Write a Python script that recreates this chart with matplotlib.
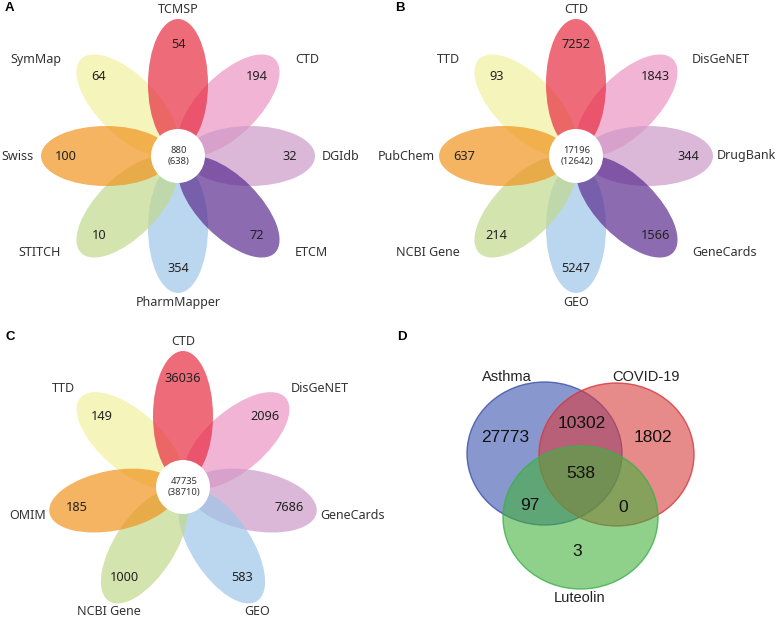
import matplotlib
matplotlib.use('Agg')
import matplotlib.pyplot as plt
from matplotlib.patches import Ellipse, Circle
import numpy as np

# panel A - compound target databases
a_labels = ['TCMSP', 'CTD', 'DGIdb', 'ETCM', 'PharmMapper', 'STITCH', 'Swiss', 'SymMap']
a_counts = [54, 194, 32, 72, 354, 10, 100, 64]
a_core = (880, 638)

# panel B
b_labels = ['CTD', 'DisGeNET', 'DrugBank', 'GeneCards', 'GEO', 'NCBI Gene', 'PubChem', 'TTD']
b_counts = [7252, 1843, 344, 1566, 5247, 214, 637, 93]
b_core = (17196, 12642)

# panel C
c_labels = ['CTD', 'DisGeNET', 'GeneCards', 'GEO', 'NCBI Gene', 'OMIM', 'TTD']
c_counts = [36036, 2096, 7686, 583, 1000, 185, 149]
c_core = (47735, 38710)

# panel D - venn
venn_sets = ['Asthma', 'COVID-19', 'Luteolin']
venn_regions = ['100', '010', '110', '111', '101', '011', '001']
venn_counts = [27773, 1802, 10302, 538, 97, 0, 3]

red, pink, lilac, purple = '#E82C41', '#EC95C2', '#CD9AC8', '#5B2C90'
blue, green, orange, yellow = '#9EC7EA', '#C2D98E', '#F1941F', '#F1F09D'
petal_cols8 = [red, pink, lilac, purple, blue, green, orange, yellow]
petal_cols7 = [red, pink, lilac, blue, green, orange, yellow]
# stacking order of the petals (bottom -> top)
stack = [pink, yellow, red, lilac, blue, purple, green, orange]

plt.rcParams['font.family'] = ['Noto Sans', 'DejaVu Sans']

fig = plt.figure(figsize=(7.76, 6.18), dpi=100)
ax = fig.add_axes([0, 0, 1, 1])
ax.set_xlim(0, 776)
ax.set_ylim(618, 0)
ax.axis('off')


def flower(cx, cy, labels, counts, core, colors, angles, tip=137, num_r=112,
           pad=7, diag=13, rise=0, bot_gap=3):
    half = 65
    d = tip - half
    for lab, n, col, th in zip(labels, counts, colors, angles):
        t = np.radians(th)
        c, s = np.cos(t), np.sin(t)
        ax.add_patch(Ellipse((cx + d * c, cy - d * s), 2 * half, 60, angle=-th,
                             facecolor=col, alpha=0.7, lw=0, zorder=1 + stack.index(col) * 0.1))
        ax.text(cx + num_r * c, cy - num_r * s, str(n), ha='center', va='center',
                fontsize=9.2, color='#222222', zorder=5)
        tx, ty = cx + tip * c, cy - tip * s
        if abs(s) > 0.8:
            if s > 0:
                ax.text(tx, ty - 3, lab, ha='center', va='bottom', fontsize=9, color='#333333')
            else:
                ax.text(tx, ty + bot_gap, lab, ha='center', va='top', fontsize=9, color='#333333')
        else:
            off = pad + diag * abs(2 * s * c)
            ax.text(tx + np.sign(c) * off, ty - rise * s, lab,
                    ha='left' if c > 0 else 'right', va='center', fontsize=9, color='#333333')
    ax.add_patch(Circle((cx, cy), 27, facecolor='white', lw=0, zorder=4))
    ax.text(cx + 1, cy, '%d\n(%d)' % core, ha='center', va='center', fontsize=6.8,
            color='#333333', linespacing=1.25, zorder=5)


ang8 = [90 - 45 * i for i in range(8)]
flower(178, 156, a_labels, a_counts, a_core, petal_cols8, ang8)
flower(576, 156, b_labels, b_counts, b_core, petal_cols8, ang8, pad=4, diag=15)
flower(183, 487, c_labels, c_counts, c_core, petal_cols7,
       [90, 41, -11, -57, -123, -169, 139], tip=136, num_r=108,
       pad=3, diag=2, rise=14, bot_gap=4)

# venn diagram
vcols = ['#3953AF', '#D83C3C', '#44B13C']
vedge = ['#3A4FA8', '#D9343C', '#3CB04A']
vcent = [(544.5, 453.5), (616.5, 454.5), (580.5, 517.5)]
for (x, y), fc, ec in zip(vcent, vcols, vedge):
    ax.add_patch(Ellipse((x, y), 155, 143, facecolor=fc, alpha=0.6, lw=0))
    ax.add_patch(Ellipse((x, y), 155, 143, facecolor='none', edgecolor=ec, lw=1, alpha=0.8))

vfont = ['Liberation Sans', 'DejaVu Sans']
set_pos = [(507, 377), (646, 377), (580, 598)]
for name, (x, y) in zip(venn_sets, set_pos):
    ax.text(x, y, name, ha='center', va='center', fontsize=10.5, family=vfont, color='#222222')

reg_pos = {'100': (505, 438), '010': (653, 438), '110': (582, 424), '111': (581, 473),
           '101': (530, 505), '011': (623, 507), '001': (577, 552)}
for key, n in zip(venn_regions, venn_counts):
    x, y = reg_pos[key]
    ax.text(x, y, str(n), ha='center', va='center', fontsize=12.5, family=vfont, color='#111111')

# panel letters
for letter, (x, y) in zip('ABCD', [(5, 8), (395, 8), (5, 337), (397, 337)]):
    ax.text(x, y, letter, ha='left', va='center', fontsize=9.5, fontweight='bold',
            family=vfont, color='black')

fig.savefig('out.png', dpi=100)
